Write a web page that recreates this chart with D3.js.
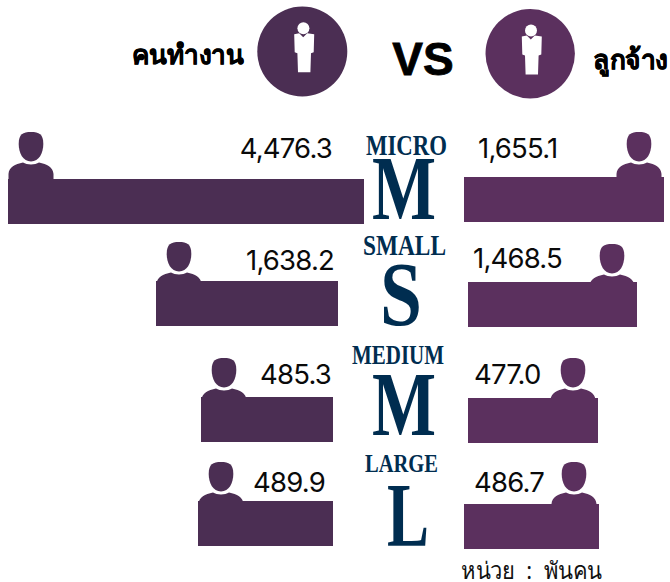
<!DOCTYPE html>
<html>
  <head>
    <meta http-equiv="Content-Type" content="text/html;charset=utf-8"/>
    <script src="https://d3js.org/d3.v7.min.js"></script>
    <style type="text/css">
    html, body { margin: 0; padding: 0; background: #fff; }
    svg { display: block; }
    .value { font-family: Inter, Roboto, sans-serif; font-size: 27.5px; fill: #0a0a0a; letter-spacing: -0.8px; }
    .head { font-family: "Noto Sans", sans-serif; font-weight: 700; fill: #000; stroke: #000; stroke-width: 0.5px; }
    .size-name { font-family: "Liberation Serif", serif; font-weight: 700; fill: #002d50; }
    .size-letter { font-family: "Liberation Serif", serif; font-weight: 700; fill: #002d50; }
    </style>
  </head>
  <body>
    <script type="text/javascript">
    var sizes = ["MICRO", "SMALL", "MEDIUM", "LARGE"];
    var letters = ["M", "S", "M", "L"];
    var workers = [4476.3, 1638.2, 485.3, 489.9];
    var employees = [1655.1, 1468.5, 477.0, 486.7];
    var workerLabel = "คนทำงาน";
    var employeeLabel = "ลูกจ้าง";
    var unitLabel = "หน่วย  :  พันคน";

    var width = 670;
    var height = 582;
    var leftColor = "#4b2e53";
    var rightColor = "#5b305e";

    // the bars in the picture are not to a straight scale, so both sides use knots
    var leftScale = d3.scaleLinear()
      .domain([485.3, 489.9, 1638.2, 4476.3])
      .range([132, 135, 182, 356]);
    var rightScale = d3.scaleLinear()
      .domain([477.0, 486.7, 1468.5, 1655.1])
      .range([130, 135, 169, 200]);

    var leftEdge = [364, 338, 333, 333];
    var rightEdge = [464, 468, 468, 464];
    var leftTop = [179, 281, 397, 501];
    var rightTop = [177, 282, 398, 504];
    var leftPersonTop = [132, 242, 358, 462];
    var rightPersonTop = [132, 244, 358, 462];
    var barHeight = 45;

    // middle column, left edge, width, baseline and size of every word
    var nameX = [366, 363, 352, 365];
    var nameW = [81, 83, 92, 73];
    var nameY = [155, 255, 364, 472];
    var nameSize = [30, 30, 27, 26];
    var letterX = [372, 380, 372, 387];
    var letterW = [64, 42, 64, 42];
    var letterY = [219, 325, 435, 546];

    var leftValueEnd = [332, 334, 331, 325];
    var rightValueStart = [478, 473, 474, 474];
    var leftValueY = [158, 270, 384, 492];
    var rightValueY = [158, 268, 384, 492];

    var svg = d3.select("body")
      .append("svg")
        .attr("width", width)
        .attr("height", height);

    function person(g, cx, top, color) {
      g.append("path")
        .attr("fill", color)
        .attr("d", "M" + (cx - 12.3) + "," + (top + 12)
          + "C" + (cx - 12.3) + "," + (top + 2) + " " + (cx - 8) + "," + top + " " + cx + "," + top
          + "C" + (cx + 8) + "," + top + " " + (cx + 12.3) + "," + (top + 2) + " " + (cx + 12.3) + "," + (top + 12)
          + "C" + (cx + 12.3) + "," + (top + 21) + " " + (cx + 8) + "," + (top + 29.5) + " " + cx + "," + (top + 29.5)
          + "C" + (cx - 8) + "," + (top + 29.5) + " " + (cx - 12.3) + "," + (top + 21) + " " + (cx - 12.3) + "," + (top + 12) + "Z");
      g.append("path")
        .attr("fill", color)
        .attr("d", "M" + (cx - 22.5) + "," + (top + 50)
          + "L" + (cx - 22.5) + "," + (top + 42)
          + "C" + (cx - 22) + "," + (top + 35) + " " + (cx - 16) + "," + (top + 32) + " " + (cx - 8) + "," + (top + 30.5)
          + "C" + (cx - 4) + "," + (top + 33) + " " + (cx + 4) + "," + (top + 33) + " " + (cx + 8) + "," + (top + 30.5)
          + "C" + (cx + 16) + "," + (top + 32) + " " + (cx + 22) + "," + (top + 35) + " " + (cx + 22.5) + "," + (top + 42)
          + "L" + (cx + 22.5) + "," + (top + 50) + "Z");
    }

    function suit(g, cx, top) {
      g.append("circle").attr("cx", cx - 0.8).attr("cy", top + 6).attr("r", 6).attr("fill", "#fff");
      g.append("path")
        .attr("fill", "#fff")
        .attr("d", "M" + (cx - 10) + "," + (top + 12)
          + "L" + (cx - 5) + "," + (top + 11) + "L" + (cx - 1) + "," + (top + 15) + "L" + (cx + 3) + "," + (top + 11)
          + "L" + (cx + 10) + "," + (top + 12) + "L" + (cx + 9.5) + "," + (top + 30)
          + "L" + (cx + 6.8) + "," + (top + 31) + "L" + (cx + 6.2) + "," + (top + 50)
          + "L" + (cx - 6.2) + "," + (top + 50) + "L" + (cx - 6.8) + "," + (top + 31)
          + "L" + (cx - 9.5) + "," + (top + 30) + "Z");
    }

    // header
    svg.append("circle").attr("cx", 302.3).attr("cy", 51.5).attr("r", 45).attr("fill", leftColor);
    svg.append("circle").attr("cx", 530.2).attr("cy", 53.7).attr("r", 44.7).attr("fill", rightColor);
    suit(svg, 304.2, 22.3);
    suit(svg, 531.8, 24.5);
    svg.append("text").attr("class", "head").attr("x", 132).attr("y", 64)
      .attr("textLength", 111).attr("lengthAdjust", "spacingAndGlyphs")
      .style("font-size", "27px").text(workerLabel);
    svg.append("text").attr("class", "head").attr("x", 593).attr("y", 69)
      .attr("textLength", 75).attr("lengthAdjust", "spacingAndGlyphs")
      .style("font-size", "27px").text(employeeLabel);
    svg.append("text").attr("x", 423).attr("y", 75).attr("text-anchor", "middle")
      .style("font-family", "'Liberation Sans', sans-serif").style("font-weight", 700).style("font-size", "46px")
      .style("stroke", "#000").style("stroke-width", "0.8px")
      .text("VS");

    // people sit behind the bars, their shoulders get cut by the bar top
    workers.forEach(function(d, i) {
      person(svg, leftEdge[i] - leftScale(d) + 23, leftPersonTop[i], leftColor);
    });
    employees.forEach(function(d, i) {
      person(svg, rightEdge[i] + rightScale(d) - 25, rightPersonTop[i], rightColor);
    });

    // left bars
    svg.selectAll("rect.left").data(workers).enter().append("rect")
      .attr("class", "left")
      .attr("x", function(d, i) { return leftEdge[i] - leftScale(d); })
      .attr("y", function(d, i) { return leftTop[i]; })
      .attr("width", function(d) { return leftScale(d); })
      .attr("height", barHeight)
      .attr("fill", leftColor);

    // right bars
    svg.selectAll("rect.right").data(employees).enter().append("rect")
      .attr("class", "right")
      .attr("x", function(d, i) { return rightEdge[i]; })
      .attr("y", function(d, i) { return rightTop[i]; })
      .attr("width", function(d) { return rightScale(d); })
      .attr("height", barHeight)
      .attr("fill", rightColor);

    var fmt = d3.format(",.1f");
    svg.selectAll("text.value-left").data(workers).enter().append("text")
      .attr("class", "value value-left")
      .attr("x", function(d, i) { return leftValueEnd[i]; })
      .attr("y", function(d, i) { return leftValueY[i]; })
      .attr("text-anchor", "end")
      .text(fmt);
    svg.selectAll("text.value-right").data(employees).enter().append("text")
      .attr("class", "value value-right")
      .attr("x", function(d, i) { return rightValueStart[i]; })
      .attr("y", function(d, i) { return rightValueY[i]; })
      .text(fmt);

    // size names in the middle
    svg.selectAll("text.size-name").data(sizes).enter().append("text")
      .attr("class", "size-name")
      .attr("x", function(d, i) { return nameX[i]; })
      .attr("y", function(d, i) { return nameY[i]; })
      .attr("textLength", function(d, i) { return nameW[i]; })
      .attr("lengthAdjust", "spacingAndGlyphs")
      .style("font-size", function(d, i) { return nameSize[i] + "px"; })
      .text(function(d) { return d; });
    svg.selectAll("text.size-letter").data(letters).enter().append("text")
      .attr("class", "size-letter")
      .attr("x", function(d, i) { return letterX[i]; })
      .attr("y", function(d, i) { return letterY[i]; })
      .attr("textLength", function(d, i) { return letterW[i]; })
      .attr("lengthAdjust", "spacingAndGlyphs")
      .style("font-size", "92px")
      .text(function(d) { return d; });

    svg.append("text").attr("x", 461).attr("y", 579)
      .attr("textLength", 141).attr("lengthAdjust", "spacingAndGlyphs")
      .style("white-space", "pre")
      .style("font-family", "'Noto Sans', sans-serif").style("font-size", "24px").style("fill", "#111")
      .text(unitLabel);
    </script>
  </body>
</html>
